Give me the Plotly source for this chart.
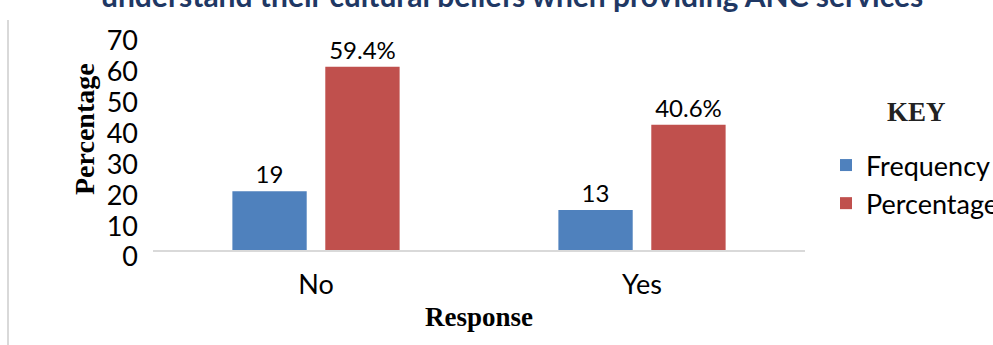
import plotly.graph_objects as go

categories = ["No", "Yes"]
frequency = [19, 13]
percentage = [59.4, 40.6]
freq_labels = [str(v) for v in frequency]
pct_labels = [f"{v}%" for v in percentage]
y_ticks = [0, 10, 20, 30, 40, 50, 60, 70]

W, H = 993, 345
L, R, T, B = 153, 188, 34, 95
PW, PH = W - L - R, H - T - B

fig = go.Figure()
fig.add_trace(go.Bar(
    x=categories, y=frequency, name="Frequency",
    marker=dict(color="#4F81BD", line=dict(width=0)),
    text=freq_labels, textposition="outside", cliponaxis=False,
    textfont=dict(family="Lato", size=24, color="#000000"),
))
fig.add_trace(go.Bar(
    x=categories, y=percentage, name="Percentage",
    marker=dict(color="#C0504D", line=dict(width=0)),
    text=pct_labels, textposition="outside", cliponaxis=False,
    textfont=dict(family="Lato", size=24, color="#000000"),
))

fig.update_layout(
    width=W, height=H,
    margin=dict(l=L, r=R, t=T, b=B),
    paper_bgcolor="white", plot_bgcolor="white",
    barmode="group", bargap=0.43, bargroupgap=0.2,
    showlegend=True,
    legend=dict(
        xref="container", yref="container",
        x=826 / W, y=1 - 141 / H, xanchor="left", yanchor="top",
        font=dict(family="Lato", size=27, color="#000000"),
        tracegroupgap=0,
        bgcolor="rgba(0,0,0,0)",
    ),
    xaxis=dict(
        showline=True, linecolor="#D9D9D9", linewidth=2,
        showgrid=False, ticks="",
        tickfont=dict(family="Lato", size=27, color="#000000"),
        ticklabelstandoff=10,
        title=dict(text="<b>Response</b>", standoff=8,
                   font=dict(family="Liberation Serif", size=27, color="#000000")),
    ),
    yaxis=dict(
        range=[0, 70], tickvals=y_ticks,
        showgrid=False, zeroline=False, showline=False, ticks="",
        tickfont=dict(family="Lato", size=27, color="#000000"),
        ticklabelstandoff=14, ticklabelshift=7,
    ),
    annotations=[
        dict(text="<b>understand their cultural beliefs when providing ANC services</b>",
             xref="paper", yref="paper", x=(512 - L) / PW, y=1.089,
             xanchor="center", yanchor="bottom", showarrow=False,
             font=dict(family="Lato", size=30, color="#1F3864")),
        dict(text="<b>Percentage</b>", textangle=-90,
             xref="paper", yref="paper", x=(84 - L) / PW, y=(250 - 129) / PH,
             xanchor="center", yanchor="middle", showarrow=False,
             font=dict(family="Liberation Serif", size=28, color="#000000")),
        dict(text="<b>KEY</b>",
             xref="paper", yref="paper", x=(916 - L) / PW, y=(250 - 112) / PH,
             xanchor="center", yanchor="middle", showarrow=False,
             font=dict(family="Liberation Serif", size=27, color="#222222")),
    ],
    shapes=[
        dict(type="line", xref="paper", yref="paper",
             x0=(8 - L) / PW, x1=(8 - L) / PW,
             y0=(250 - 20) / PH, y1=(250 - 345) / PH,
             line=dict(color="#D9D9D9", width=2)),
    ],
)

fig.write_html("out.html")
